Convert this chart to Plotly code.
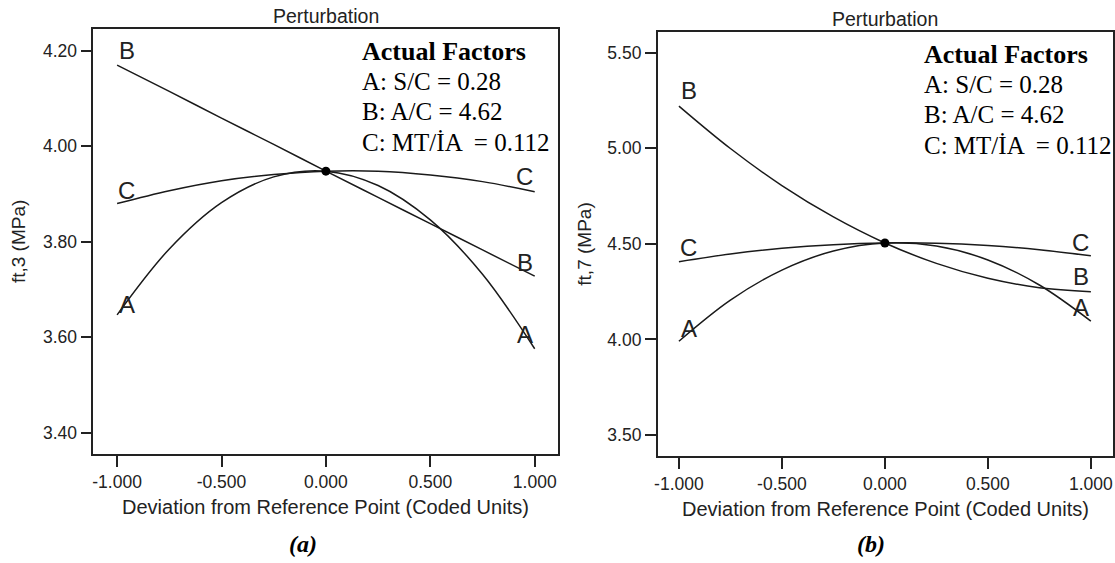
import plotly.graph_objects as go

# ---------------- data ----------------
x_pts = [-1.0, -0.75, -0.5, -0.25, 0.0, 0.25, 0.5, 0.75, 1.0]

# panel (a): ft,3 (MPa)
a_A = [3.647, 3.785, 3.882, 3.936, 3.948, 3.918, 3.846, 3.732, 3.576]
a_B = [4.170, 4.115, 4.059, 4.004, 3.948, 3.893, 3.838, 3.783, 3.728]
a_C = [3.880, 3.907, 3.928, 3.941, 3.948, 3.948, 3.940, 3.926, 3.905]
a_ref = 3.948

# panel (b): ft,7 (MPa)
b_A = [3.991, 4.206, 4.363, 4.463, 4.505, 4.489, 4.416, 4.285, 4.096]
b_B = [5.221, 4.999, 4.805, 4.641, 4.505, 4.398, 4.320, 4.271, 4.250]
b_C = [4.407, 4.447, 4.477, 4.496, 4.505, 4.504, 4.492, 4.470, 4.438]
b_ref = 4.505

x_ticks = [-1.0, -0.5, 0.0, 0.5, 1.0]
x_ticktext = ["-1.000", "-0.500", "0.000", "0.500", "1.000"]
a_yticks = [3.40, 3.60, 3.80, 4.00, 4.20]
b_yticks = [3.50, 4.00, 4.50, 5.00, 5.50]

# curve end labels: (text, x, y)
a_labels = [("B", -0.955, 4.200), ("C", -0.955, 3.908), ("A", -0.955, 3.668),
            ("C", 0.952, 3.936), ("B", 0.952, 3.757), ("A", 0.952, 3.605)]
b_labels = [("B", -0.952, 5.305), ("C", -0.952, 4.480), ("A", -0.952, 4.056),
            ("C", 0.950, 4.506), ("B", 0.950, 4.330), ("A", 0.953, 4.166)]

factor_lines = ["A: S/C = 0.28", "B: A/C = 4.62", "C: MT/İA  = 0.112"]

W, H = 1115, 563
LINE = "#1a1a1a"
SANS = "Arial, Liberation Sans, sans-serif"
SERIF = "Times New Roman, Liberation Serif, serif"

fig = go.Figure()

def add_curves(xa, ya, series, ref):
    for ys in series:
        fig.add_trace(go.Scatter(x=x_pts, y=ys, mode="lines", xaxis=xa, yaxis=ya,
                                 line=dict(color=LINE, width=1.5, shape="spline"),
                                 showlegend=False, hoverinfo="skip"))
    fig.add_trace(go.Scatter(x=[0.0], y=[ref], mode="markers", xaxis=xa, yaxis=ya,
                             marker=dict(color="black", size=9), showlegend=False))

add_curves("x", "y", [a_A, a_B, a_C], a_ref)
add_curves("x2", "y2", [b_A, b_B, b_C], b_ref)

# panel boxes in pixels
pa = dict(l=93.3, r=558.3, t=29.3, b=454.3)
pb = dict(l=657.7, r=1112.7, t=32.3, b=455.7)

def dom(p):
    return [p["l"] / W, p["r"] / W], [1 - p["b"] / H, 1 - p["t"] / H]

axcommon = dict(showgrid=False, zeroline=False, showline=True, mirror=True,
                linecolor="#222", linewidth=1.6, ticks="outside", ticklen=11,
                tickwidth=1.5, tickcolor="#222", automargin=False,
                tickfont=dict(family=SANS, size=17.5, color="#222"))

xd, yd = dom(pa)
fig.update_layout(
    xaxis=dict(domain=xd, range=[-1.114, 1.113], tickvals=x_ticks, ticktext=x_ticktext,
               anchor="y", **axcommon),
    yaxis=dict(domain=yd, range=[3.355, 4.245], tickvals=a_yticks, tickformat=".2f",
               anchor="x", **axcommon),
)
xd2, yd2 = dom(pb)
fig.update_layout(
    xaxis2=dict(domain=xd2, range=[-1.103, 1.106], tickvals=x_ticks, ticktext=x_ticktext,
                anchor="y2", **axcommon),
    yaxis2=dict(domain=yd2, range=[3.392, 5.607], tickvals=b_yticks, tickformat=".2f",
                anchor="x2", **axcommon),
)

ann = []
def pann(text, x, y, size, family=SANS, xanchor="center", angle=0, color="#222"):
    ann.append(dict(text=text, x=x / W, y=1 - y / H, xref="paper", yref="paper",
                    xanchor=xanchor, yanchor="middle", showarrow=False, textangle=angle,
                    font=dict(family=family, size=size, color=color)))

for p, title, sub, subx, fx in [(pa, "ft,3 (MPa)", "<b><i>(a)</i></b>", 303, 360),
                                (pb, "ft,7 (MPa)", "<b><i>(b)</i></b>", 871, 921.7)]:
    cx = (p["l"] + p["r"]) / 2
    pann("Perturbation", cx, p["t"] - 13.5, 19.5)
    pann("Deviation from Reference Point (Coded Units)", cx, p["b"] + 53, 20)
    pann(title, p["l"] - 74, (p["t"] + p["b"]) / 2, 19, angle=-90)
    pann(sub, subx, 544, 24, family=SERIF, color="black")
    ys = [p["t"] + 22.4, p["t"] + 51.7, p["t"] + 82.5, p["t"] + 113.5]
    pann("<b>Actual Factors</b>", fx, ys[0], 26, family=SERIF, xanchor="left", color="black")
    for line, yy in zip(factor_lines, ys[1:]):
        pann(line, fx, yy, 25, family=SERIF, xanchor="left", color="black")

for labs, xr, yr in [(a_labels, "x", "y"), (b_labels, "x2", "y2")]:
    for t, lx, ly in labs:
        ann.append(dict(text=t, x=lx, y=ly, xref=xr, yref=yr, showarrow=False,
                        xanchor="center", yanchor="middle",
                        font=dict(family=SANS, size=24, color="#222")))

fig.update_layout(width=W, height=H, margin=dict(l=0, r=0, t=0, b=0),
                  paper_bgcolor="white", plot_bgcolor="white", annotations=ann)

fig.write_html("out.html", config={"displayModeBar": False},
               post_script="document.body.style.margin='0px';")
